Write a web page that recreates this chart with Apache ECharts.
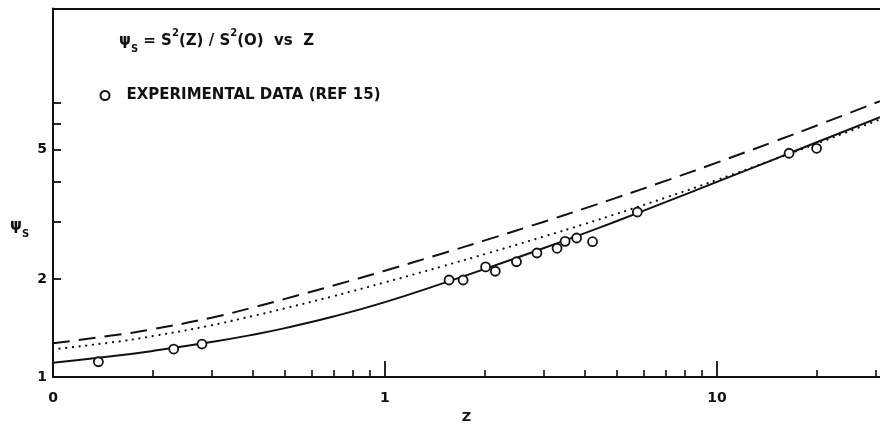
<!DOCTYPE html>
<html><head><meta charset="utf-8">
<script src="https://cdn.jsdelivr.net/npm/echarts@6/dist/echarts.min.js"></script>
<style>html,body{margin:0;padding:0;background:#fff}#c{width:880px;height:425px}</style>
</head><body><div id="c"></div>
<script>
// ---- data ----
const zGrid     = [0.1, 0.15, 0.2, 0.3, 0.4, 0.5, 0.7, 1, 1.5, 2, 3, 4, 5, 7, 10, 15, 20, 31];
const solidPsi  = [1.106, 1.158, 1.203, 1.281, 1.349, 1.414, 1.535, 1.700, 1.945, 2.151, 2.489, 2.772, 3.021, 3.451, 3.984, 4.692, 5.276, 6.307];
const dashedPsi = [1.270, 1.341, 1.404, 1.522, 1.636, 1.739, 1.912, 2.124, 2.404, 2.632, 3.000, 3.303, 3.565, 4.012, 4.567, 5.318, 5.940, 7.060];
const dottedPsi = [1.217, 1.278, 1.336, 1.443, 1.541, 1.627, 1.774, 1.955, 2.195, 2.389, 2.702, 2.957, 3.180, 3.562, 4.038, 4.687, 5.227, 6.205];
const expZ   = [0.137, 0.231, 0.281, 1.56, 1.72, 2.01, 2.15, 2.49, 2.87, 3.30, 3.49, 3.78, 4.22, 5.76, 16.5, 19.97];
const expPsi = [1.114, 1.219, 1.263, 1.988, 1.988, 2.181, 2.115, 2.263, 2.407, 2.489, 2.615, 2.677, 2.608, 3.219, 4.88, 5.055];
const xLabelValues = [0.1, 1, 10];
const xLabelTexts  = ['0', '1', '10'];
const xMajorTicks  = [1, 10];
const xMinorTicks  = [0.2, 0.3, 0.4, 0.5, 0.6, 0.7, 0.8, 0.9, 2, 3, 4, 5, 6, 7, 8, 9, 20, 30];
const yLabelValues = [1, 2, 5];
const yTicks       = [2, 3, 4, 5, 6, 7];
const expName = 'EXPERIMENTAL DATA (REF 15)';

const zip = (xs, ys) => xs.map((x, i) => [x, ys[i]]);
const INK = '#111';
const FONT = 'DejaVu Sans';

const xLabelFmt = v => {
  for (let i = 0; i < xLabelValues.length; i++) {
    if (Math.abs(Math.log10(v) - Math.log10(xLabelValues[i])) < 0.01) return xLabelTexts[i];
  }
  return '';
};

const xBase = { type: 'log', min: 0.1, max: 31, logBase: 10, gridIndex: 0, splitLine: { show: false } };

const option = {
  backgroundColor: '#fff',
  animation: false,
  grid: { left: 53, right: 0, top: 8.6, bottom: 48, containLabel: false, outerBoundsMode: 'none' },
  legend: {
    data: [expName], left: 99.5, top: 88, padding: 0, selectedMode: false,
    itemWidth: 9, itemHeight: 9, icon: 'circle',
    textStyle: { fontFamily: FONT, fontWeight: 'bold', fontSize: 15, color: INK, padding: [0, 0, 0, 12] }
  },
  xAxis: [
    Object.assign({}, xBase, {
      position: 'bottom',
      axisLine: { show: true, lineStyle: { color: INK, width: 2 } },
      axisTick: { show: true, inside: true, length: 7, customValues: xMinorTicks, lineStyle: { color: INK, width: 1.6 } },
      axisLabel: { show: true, customValues: xLabelValues, formatter: xLabelFmt, margin: 14,
        fontFamily: FONT, fontWeight: 'bold', fontSize: 14, color: INK },
      name: 'Z', nameLocation: 'middle', nameGap: 34,
      nameTextStyle: { fontFamily: FONT, fontWeight: 'bold', fontSize: 13, color: INK }
    }),
    Object.assign({}, xBase, {
      position: 'bottom',
      axisLine: { show: false },
      axisTick: { show: true, inside: true, length: 16, customValues: xMajorTicks, lineStyle: { color: INK, width: 1.8 } },
      axisLabel: { show: false }
    }),
    Object.assign({}, xBase, {
      position: 'top',
      axisLine: { show: true, lineStyle: { color: INK, width: 2 } },
      axisTick: { show: false },
      axisLabel: { show: false }
    })
  ],
  yAxis: [{
    type: 'log', min: 1, max: 13.6, logBase: 10,
    axisLine: { show: true, lineStyle: { color: INK, width: 2 } },
    axisTick: { show: true, inside: true, length: 8, customValues: yTicks, lineStyle: { color: INK, width: 1.8 } },
    axisLabel: { show: true, customValues: yLabelValues, formatter: v => String(Math.round(v)), margin: 6,
      fontFamily: FONT, fontWeight: 'bold', fontSize: 14, color: INK },
    splitLine: { show: false }
  }],
  graphic: [
    {
      type: 'text', left: 119, top: 28, silent: true,
      style: {
        text: '{m|ψ}{sub|S}{m| = S}{sup|2}{m|(Z) / S}{sup|2}{m|(O)  vs  Z}',
        rich: {
          m:   { fontFamily: FONT, fontWeight: 'bold', fontSize: 15, lineHeight: 26, fill: INK, color: INK },
          sup: { fontFamily: FONT, fontWeight: 'bold', fontSize: 10, lineHeight: 16, verticalAlign: 'top', fill: INK, color: INK },
          sub: { fontFamily: FONT, fontWeight: 'bold', fontSize: 10, lineHeight: 9, verticalAlign: 'bottom', fill: INK, color: INK }
        }
      }
    },
    {
      type: 'text', left: 10, top: 219, silent: true,
      style: {
        text: '{m|ψ}{sub|S}',
        rich: {
          m:   { fontFamily: FONT, fontWeight: 'bold', fontSize: 15, lineHeight: 26, fill: INK, color: INK },
          sub: { fontFamily: FONT, fontWeight: 'bold', fontSize: 10, lineHeight: 9, verticalAlign: 'bottom', fill: INK, color: INK }
        }
      }
    }
  ],
  series: [
    { type: 'line', name: 'solid', data: zip(zGrid, solidPsi), smooth: 0.5, symbol: 'none',
      lineStyle: { color: INK, width: 2 }, z: 2 },
    { type: 'line', name: 'dashed', data: zip(zGrid, dashedPsi), smooth: 0.5, symbol: 'none',
      lineStyle: { color: INK, width: 2, type: [17, 9] }, z: 2 },
    { type: 'line', name: 'dotted', data: zip(zGrid, dottedPsi), smooth: 0.5, symbol: 'none',
      lineStyle: { color: INK, width: 2.2, type: [0.1, 6.6], cap: 'round' }, z: 2 },
    { type: 'scatter', name: expName, data: zip(expZ, expPsi), symbol: 'circle', symbolSize: 9,
      itemStyle: { color: '#fff', borderColor: INK, borderWidth: 1.8, opacity: 1 }, z: 5 }
  ]
};

const chart = echarts.init(document.getElementById('c'), null, { renderer: 'canvas' });
chart.setOption(option);
</script>
</body></html>
